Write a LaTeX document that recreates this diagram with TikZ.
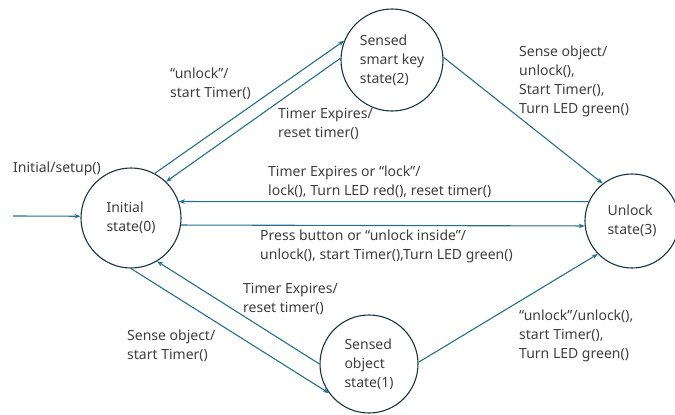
\documentclass[tikz,border=0pt]{standalone}
\usepackage{fontspec}
\setmainfont{Noto Sans}
\usetikzlibrary{arrows.meta}
\definecolor{edgeblue}{RGB}{36,110,146}
\definecolor{ringdark}{RGB}{24,52,68}
\definecolor{txtgray}{RGB}{62,62,62}
\tikzset{
  statenode/.style={circle, draw=ringdark, line width=1.1pt, inner sep=0pt,
    align=left, text=txtgray, font=\fontsize{14}{18.8}\selectfont},
  trans/.style={draw=edgeblue, line width=1.1pt,
    -{Stealth[length=6pt,width=4.5pt]}},
  lbl/.style={anchor=west, align=left, inner sep=0pt, text=txtgray,
    font=\fontsize{14}{18.8}\selectfont}
}
\begin{document}
\begin{tikzpicture}[x=1pt,y=-1pt]
\useasboundingbox (0,0) rectangle (675,415);

% states
\node[statenode, minimum size=100pt] (init)   at (131,218) {Initial\\state(0)};
\node[statenode, minimum size=102pt] (smart)  at (392,60)  {Sensed\\smart key\\state(2)};
\node[statenode, minimum size=94pt]  (unlock) at (632,221) {Unlock\\state(3)};
\node[statenode, minimum size=98pt]  (object) at (369,364) {Sensed\\object\\state(1)};

% initial transition
\coordinate (start) at (13,216);
\draw[trans] (start) -- (init.178);

% transitions
\draw[trans] (init.62)    -- (smart.158);
\draw[trans] (smart.178)  -- (init.46);
\draw[trans] (smart.3)    -- (unlock.128);
\draw[trans] (unlock.156) -- (init.19);
\draw[trans] (init.-8.6)  -- (unlock.-174.5);
\draw[trans] (init.-90)   -- (object.216);
\draw[trans] (object.180) -- (init.-59);
\draw[trans] (object.2)   -- (unlock.224);

% labels
\node[lbl] (l0) at (13,169) {Initial/setup()};
\node[lbl] (l1) at (170,84) {“unlock”/\\start Timer()};
\node[lbl] (l2) at (278,124) {Timer Expires/\\reset timer()};
\node[lbl] (l3) at (519,81.5) {Sense object/\\unlock(),\\Start Timer(),\\Turn LED green()};
\node[lbl] (l4) at (268,182) {Timer Expires or “lock”/\\lock(), Turn LED red(), reset timer()};
\node[lbl] (l5) at (260,246) {Press button or “unlock inside”/\\unlock(), start Timer(),Turn LED green()};
\node[lbl] (l6) at (243,299) {Timer Expires/\\reset timer()};
\node[lbl] (l7) at (127,346) {Sense object/\\start Timer()};
\node[lbl] (l8) at (519,336) {“unlock”/unlock(),\\start Timer(),\\Turn LED green()};
\end{tikzpicture}
\end{document}
